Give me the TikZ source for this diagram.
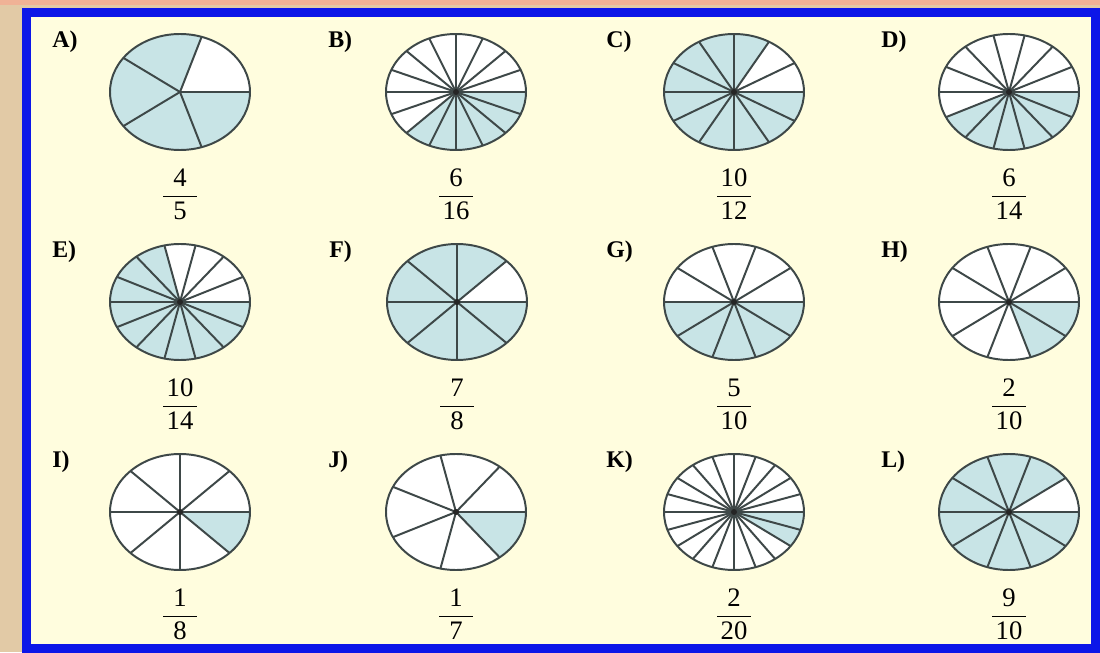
\documentclass[tikz,border=0pt]{standalone}
\usepackage{fontspec}
\setmainfont{Liberation Serif}
\usetikzlibrary{positioning}
\definecolor{parchment}{RGB}{226,202,166}
\definecolor{topstripe}{RGB}{240,178,150}
\definecolor{paper}{RGB}{255,253,222}
\definecolor{frameblue}{RGB}{12,22,232}
\definecolor{piefill}{RGB}{200,228,230}
\definecolor{pieedge}{RGB}{62,72,72}
\newcommand{\piefrac}[2]{$\displaystyle{\hbox to 8.5mm{\hss#1\hss}\above 0.9pt\hbox{#2}}$}

\begin{document}
\begin{tikzpicture}[
    x=0.25mm,
    y=0.25mm,
    pieline/.style={
        draw=pieedge,
        line width=1.4pt
    },
    pielabel/.style={
        anchor=west,
        inner sep=0pt,
        font=\fontsize{17}{20}\selectfont\bfseries
    },
    fraclabel/.style={
        inner sep=0pt,
        font=\fontsize{19}{23}\selectfont
    }
]

\useasboundingbox (0,0) rectangle (1100,652);
\fill[parchment] (0,0) rectangle (1100,652);
\fill[topstripe] (0,647) rectangle (1100,652);
\filldraw[fill=paper,draw=frameblue,line width=6.4pt]
    (26.5,3.5) rectangle (1095,639.5);

% name/x/y/parts/first shaded angle/numerator/denominator
\foreach \nm/\cx/\cy/\n/\sa/\num/\den in {
    A/180/560/5/72/4/5,
    B/456/560/16/225/6/16,
    C/734/560/12/60/10/12,
    D/1009/560/14/205.714/6/14,
    E/180/350/14/102.857/10/14,
    F/457/350/8/45/7/8,
    G/734/350/10/180/5/10,
    H/1009/350/10/288/2/10,
    I/180/140/8/315/1/8,
    J/456/140/7/308.571/1/7,
    K/734/140/20/324/2/20,
    L/1009/140/10/36/9/10}
{
    \coordinate (pie\nm) at (\cx,\cy);
    \fill[white] (pie\nm) ellipse [x radius=70, y radius=58];
    \fill[piefill] (pie\nm) -- ++(\sa:70 and 58)
        arc[start angle=\sa, end angle=360, x radius=70, y radius=58] -- cycle;
    \foreach \k in {1,...,\n}
        \draw[pieline] (pie\nm) -- ++({360*\k/\n}:70 and 58);
    \draw[pieline] (pie\nm) ellipse [x radius=70, y radius=58];
    \ifnum\n>5 \fill[black!85] (pie\nm) circle [radius=3]; \fi

    \node[pielabel] (lab\nm) at (\cx-128,\cy+50) {\nm)};
    \node[fraclabel] (frac\nm) at (\cx,\cy-102) {\piefrac{\num}{\den}};
}

\end{tikzpicture}
\end{document}
